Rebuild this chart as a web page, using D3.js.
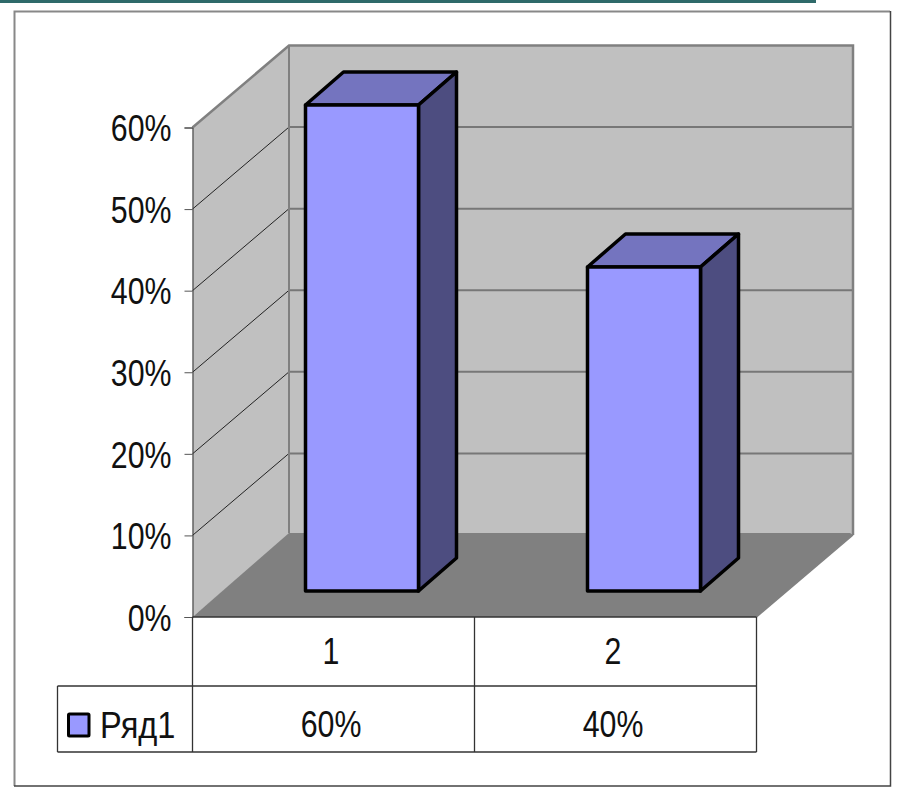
<!DOCTYPE html>
<html>
<head>
<meta charset="utf-8">
<style>
  html, body { margin: 0; padding: 0; background: #fff; }
  svg { display: block; }
  text { font-family: "Liberation Sans", Arial, sans-serif; font-size: 37px; fill: #111; }
</style>
</head>
<body>
<svg width="903" height="793"></svg>
<script src="https://cdn.jsdelivr.net/npm/d3@7"></script>
<script>
var categories = ["1", "2"];
var values = [0.6, 0.4];
var seriesName = "Ряд1";
var tickValues = [0, 0.1, 0.2, 0.3, 0.4, 0.5, 0.6];

var svg = d3.select("svg");
var pct = d3.format(".0%");

// front plane of the plot
var x = d3.scaleBand().domain(categories).range([192.5, 756.5]);
var y = d3.scaleLinear().domain([0, 0.6]).range([617, 127.5]);
// bars sit a bit further back and have a slightly different height
var yBar = d3.scaleLinear().domain([0, 0.6]).range([591, 105]);

// depth of the box and of the bars
var dx = 96.5, dy = 82;
var barOffset = 28.5, barW = 113, barDx = 38, barDy = 33;
var rowY = [617, 686, 752], legendX = 57.5;
var squeeze = 0.82, labelShift = -2.5;

function poly(points) { return points.join(" "); }

// the original type is narrow, there is no narrow face installed so scale it
function textAt(tx, ty, sx) {
  return "translate(" + tx + "," + ty + ") scale(" + (sx || squeeze) + ",1)";
}

// page furniture
svg.append("rect").attr("x", 0).attr("y", 0).attr("width", 816).attr("height", 3).attr("fill", "#2f6a6a");
svg.append("path").attr("d", "M14.5,786V11.5H890").attr("fill", "none").attr("stroke", "#888").attr("stroke-width", 2);
svg.append("path").attr("d", "M890.5,11V786H14").attr("fill", "none").attr("stroke", "#444").attr("stroke-width", 1.5);

var x0 = x.range()[0], x1 = x.range()[1];
var yTop = y(0.6), yBase = y(0);

// walls and floor
svg.append("polygon")
  .attr("points", poly([[x0, yBase], [x0, yTop], [x0 + dx, yTop - dy], [x1 + dx, yTop - dy], [x1 + dx, yBase - dy], [x0 + dx, yBase - dy]]))
  .attr("fill", "#c0c0c0");
svg.append("polygon")
  .attr("points", poly([[x0, yBase], [x1, yBase], [x1 + dx, yBase - dy], [x1 + dx - 3, yBase - dy - 2], [x0 + dx, yBase - dy - 2]]))
  .attr("fill", "#808080");

// gridlines on the back wall and the side wall
svg.selectAll("line.grid").data(tickValues.slice(1, -1)).enter().append("line")
  .attr("class", "grid")
  .attr("x1", x0 + dx).attr("x2", x1 + dx)
  .attr("y1", function(d) { return y(d) - dy; })
  .attr("y2", function(d) { return y(d) - dy; })
  .attr("stroke", "#777").attr("stroke-width", 2);
svg.selectAll("line.side").data(tickValues.slice(1, -1)).enter().append("line")
  .attr("class", "side")
  .attr("x1", x0).attr("x2", x0 + dx)
  .attr("y1", function(d) { return y(d); })
  .attr("y2", function(d) { return y(d) - dy; })
  .attr("stroke", "#111").attr("stroke-width", 0.9);

// wall outline
svg.append("path")
  .attr("d", "M" + x0 + "," + yTop + "L" + (x0 + dx) + "," + (yTop - dy) + "H" + (x1 + dx) + "V" + (yBase - dy))
  .attr("fill", "none").attr("stroke", "#808080").attr("stroke-width", 2.5);
svg.append("line")
  .attr("x1", x0 + dx).attr("x2", x0 + dx).attr("y1", yTop - dy).attr("y2", yBase - dy - 2)
  .attr("stroke", "#808080").attr("stroke-width", 2);
svg.append("line")
  .attr("x1", x1).attr("x2", x1 + dx).attr("y1", yBase).attr("y2", yBase - dy)
  .attr("stroke", "#808080").attr("stroke-width", 1.5);

// bars
var bars = svg.selectAll("g.bar").data(values).enter().append("g").attr("class", "bar")
  .attr("stroke", "#000").attr("stroke-width", 3.5).attr("stroke-linejoin", "round");
function left(d, i) { return x(categories[i]) + x.bandwidth() / 2 + barOffset - barW / 2; }
bars.append("polygon")
  .attr("fill", "#7474bf")
  .attr("points", function(d, i) {
    var l = left(d, i), t = yBar(d);
    return poly([[l, t], [l + barDx, t - barDy], [l + barW + barDx, t - barDy], [l + barW, t]]);
  });
bars.append("polygon")
  .attr("fill", "#4d4d80")
  .attr("points", function(d, i) {
    var l = left(d, i), t = yBar(d), b = yBar(0);
    return poly([[l + barW, t], [l + barW + barDx, t - barDy], [l + barW + barDx, b - barDy], [l + barW, b]]);
  });
bars.append("rect")
  .attr("fill", "#9999ff")
  .attr("x", left)
  .attr("y", function(d) { return yBar(d); })
  .attr("width", barW)
  .attr("height", function(d) { return yBar(0) - yBar(d); });

// y axis
var axis = svg.append("g")
  .attr("transform", "translate(" + x0 + ",0)")
  .call(d3.axisLeft(y).tickValues(tickValues).tickFormat(pct).tickSize(8).tickPadding(13));
axis.attr("font-family", null).attr("font-size", null);
axis.select(".domain").attr("stroke", "#333").attr("stroke-width", 1);
axis.selectAll(".tick line").attr("stroke", "#555").attr("stroke-width", 1);
axis.selectAll("text")
  .attr("x", 0)
  .attr("dy", "0.36em")
  .attr("transform", textAt(-21, 0));

// data table
var table = svg.append("g").attr("stroke", "#333").attr("stroke-width", 1.3);
table.append("line").attr("x1", x0).attr("x2", x1).attr("y1", rowY[0]).attr("y2", rowY[0]);
table.append("line").attr("x1", legendX).attr("x2", x1).attr("y1", rowY[1]).attr("y2", rowY[1]);
table.append("line").attr("x1", legendX).attr("x2", x1).attr("y1", rowY[2]).attr("y2", rowY[2]);
table.append("line").attr("x1", legendX).attr("x2", legendX).attr("y1", rowY[1]).attr("y2", rowY[2]);
table.selectAll("line.col").data(categories.concat(["end"])).enter().append("line")
  .attr("class", "col")
  .attr("x1", function(d, i) { return x0 + i * x.bandwidth(); })
  .attr("x2", function(d, i) { return x0 + i * x.bandwidth(); })
  .attr("y1", rowY[0]).attr("y2", rowY[2]);

svg.selectAll("text.cat").data(categories).enter().append("text")
  .attr("class", "cat")
  .attr("text-anchor", "middle")
  .attr("transform", function(d) { return textAt(x(d) + x.bandwidth() / 2 + labelShift, 664); })
  .text(function(d) { return d; });
svg.selectAll("text.val").data(values).enter().append("text")
  .attr("class", "val")
  .attr("text-anchor", "middle")
  .attr("transform", function(d, i) { return textAt(x(categories[i]) + x.bandwidth() / 2 + labelShift, 737); })
  .text(pct);

// legend key
svg.append("rect").attr("x", 68.5).attr("y", 714).attr("width", 20.5).attr("height", 22)
  .attr("fill", "#9999ff").attr("stroke", "#000").attr("stroke-width", 3).attr("rx", 1);
svg.append("text").attr("transform", textAt(100, 738, 0.88)).text(seriesName);
</script>
</body>
</html>
